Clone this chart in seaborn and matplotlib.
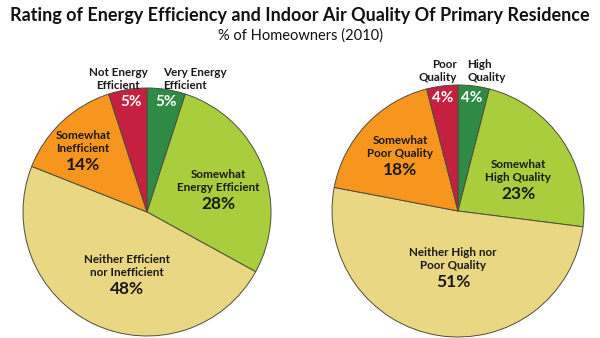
import matplotlib
matplotlib.use("Agg")
import matplotlib.pyplot as plt
import seaborn as sns

sns.set_theme(style="white")
plt.rcParams['font.family'] = ['Lato', 'DejaVu Sans']

# Energy efficiency rating (clockwise from top)
eff_labels = ["Very Energy\nEfficient", "Somewhat\nEnergy Efficient",
              "Neither Efficient\nnor Inefficient", "Somewhat\nInefficient",
              "Not Energy\nEfficient"]
eff_values = [5, 28, 48, 14, 5]

# Indoor air quality rating (clockwise from top)
air_labels = ["High\nQuality", "Somewhat\nHigh Quality",
              "Neither High nor\nPoor Quality", "Somewhat\nPoor Quality",
              "Poor\nQuality"]
air_values = [4, 23, 51, 18, 4]

colors = ["#2e8a45", "#a9cd3c", "#ead784", "#f7961f", "#c5203f"]

W, H = 600, 338
fig = plt.figure(figsize=(W / 100, H / 100), dpi=100)
ax = fig.add_axes([0, 0, 1, 1])


def Y(y):
    return H - y


wedge_style = dict(edgecolor="#4d4d3d", linewidth=0.7)
ax.pie(eff_values, colors=colors, startangle=90, counterclock=False,
       center=(147, Y(212)), radius=124, wedgeprops=wedge_style, frame=True)
ax.pie(air_values, colors=colors, startangle=90, counterclock=False,
       center=(458, Y(211)), radius=126, wedgeprops=wedge_style, frame=True)
ax.set_xlim(0, W)
ax.set_ylim(0, H)
ax.set_aspect("equal")
ax.axis("off")

fig.text(0.5, 1 - 16 / H, "Rating of Energy Efficiency and Indoor Air Quality Of Primary Residence",
         ha="center", va="center", fontsize=13, fontweight="bold", color="#111111")
fig.text(0.5, 1 - 36 / H, "% of Homeowners (2010)", ha="center", va="center",
         fontsize=10.5, color="#111111")

lab = dict(fontsize=8.4, fontweight="bold", color="#1a1a1a", linespacing=1.15)
pct = dict(fontsize=12.5, fontweight="bold", color="#1a1a1a")
white = dict(fontsize=11, fontweight="bold", color="white", ha="center", va="center")


def inner(x, y, i, labels, values):
    ax.text(x, Y(y), labels[i], ha="center", va="center", **lab)
    ax.text(x, Y(y + 23), f"{values[i]}%", ha="center", va="center", **pct)


# Left pie labels
ax.text(118, Y(79), eff_labels[4], ha="center", va="center", **lab)
ax.text(163, Y(79), eff_labels[0], ha="left", va="center", **lab)
ax.text(131, Y(102), f"{eff_values[4]}%", **white)
ax.text(166, Y(102), f"{eff_values[0]}%", **white)
inner(83, 142, 3, eff_labels, eff_values)
inner(218, 181, 1, eff_labels, eff_values)
inner(127, 266, 2, eff_labels, eff_values)

# Right pie labels
ax.text(457, Y(71), air_labels[4], ha="right", va="center", multialignment="right", **lab)
ax.text(467, Y(71), air_labels[0], ha="left", va="center", **lab)
ax.text(443, Y(98), f"{air_values[4]}%", **white)
ax.text(472, Y(98), f"{air_values[0]}%", **white)
inner(400, 147, 3, air_labels, air_values)
inner(518, 171, 1, air_labels, air_values)
inner(453, 259, 2, air_labels, air_values)

fig.savefig("out.png", dpi=100, facecolor="white")
